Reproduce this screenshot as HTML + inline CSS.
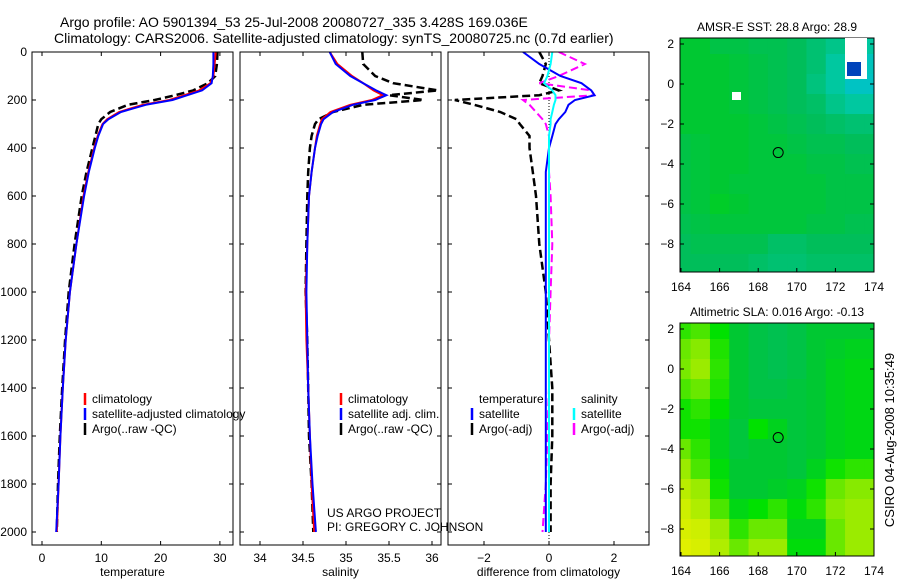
<!DOCTYPE html>
<html><head><meta charset="utf-8">
<style>
html,body{margin:0;padding:0;background:#fff;}
svg{display:block;font-family:"Liberation Sans",sans-serif;}
</style></head>
<body>
<svg id="fig" width="900" height="580" viewBox="0 0 900 580">
<text x="60" y="27" font-size="14">Argo profile: AO 5901394_53 25-Jul-2008 20080727_335 3.428S 169.036E</text>
<text x="54" y="43" font-size="14">Climatology: CARS2006. Satellite-adjusted climatology: synTS_20080725.nc (0.7d earlier)</text>
<text transform="translate(894,440) rotate(-90)" text-anchor="middle" font-size="13">CSIRO 04-Aug-2008 10:35:49</text>
<g id="plots"></g>
</svg>
<script>
// ---- profile data ----
const depths = [0,50,100,130,160,180,200,220,250,280,300,350,400,500,600,800,1000,1200,1400,1600,1800,2000];
const tempClim = [29.3,29.1,28.9,28.4,26.5,24,21.5,17,13,11,10.2,9.4,8.8,7.8,7,5.8,4.7,4,3.5,3.1,2.8,2.5];
const tempSat  = [28.9,28.9,28.8,28.6,27,24.5,22,17.5,13.3,11.2,10.3,9.5,8.9,7.9,7.1,5.8,4.7,4,3.5,3.1,2.8,2.4];
const tempArgo = [29.6,29.5,29.2,28.0,25.5,22.5,19,14.5,11.5,10,9.5,9,8.5,7.5,6.7,5.5,4.5,3.9,3.4,3.0,2.7,2.5];
const salClim = [34.81,34.9,35.07,35.2,35.32,35.43,35.3,35.05,34.82,34.72,34.7,34.66,34.64,34.6,34.57,34.55,34.53,34.54,34.56,34.58,34.6,34.63];
const salSat  = [34.81,34.88,35.05,35.2,35.35,35.47,35.34,35.08,34.85,34.74,34.71,34.67,34.64,34.6,34.57,34.55,34.54,34.55,34.56,34.58,34.61,34.65];
const salArgo = [35.19,35.2,35.34,35.55,36.07,35.5,35.9,35.2,34.85,34.68,34.64,34.6,34.58,34.56,34.55,34.54,34.53,34.55,34.56,34.57,34.6,34.62];
const dTempSat  = [-0.8,-0.3,0.35,1.0,1.3,1.4,0.8,0.6,0.5,0.3,0.2,0.1,0,-0.1,-0.1,-0.1,-0.1,-0.1,-0.1,-0.1,-0.1,-0.1];
const dTempArgo = [-0.3,-0.1,-0.2,-0.3,0.3,-0.3,-2.9,-2.3,-1.5,-1.0,-0.9,-0.6,-0.6,-0.5,-0.4,-0.3,-0.1,0,0.1,0.1,0.05,0.05];
const dSalSat   = [0.1,0.05,-0.05,-0.15,0.1,0.2,0.2,0.15,0.1,0.05,0.05,0,0,0,0,0,0,0,0,0,0,0];
const dSalArgo  = [0.3,1.1,0.3,-0.3,1.3,1.4,-0.8,-0.6,-0.4,-0.2,-0.1,0,0,0,0.05,0.1,0.05,0,0,-0.05,-0.1,-0.2];
const depthTicks = [0,200,400,600,800,1000,1200,1400,1600,1800,2000];
const tempTicks = [0,10,20,30];
const salTicks = [34,34.5,35,35.5,36];
const diffTicks = [-2,0,2];
// ---- map data (rows lat 2..-9, cols lon 164..173), colormap index 0..1 ----
const sstGrid = [
 [0.5,0.5,0.48,0.48,0.47,0.47,0.46,0.44,0.42,0.40],
 [0.5,0.5,0.5,0.49,0.48,0.47,0.46,0.44,0.40,0.36],
 [0.5,0.5,0.5,0.49,0.48,0.47,0.46,0.43,0.40,0.35],
 [0.5,0.5,0.5,0.49,0.48,0.47,0.46,0.45,0.42,0.40],
 [0.5,0.5,0.5,0.5,0.49,0.48,0.47,0.46,0.45,0.44],
 [0.48,0.49,0.5,0.5,0.49,0.49,0.48,0.47,0.47,0.46],
 [0.48,0.49,0.5,0.5,0.49,0.49,0.49,0.48,0.48,0.47],
 [0.48,0.49,0.5,0.49,0.49,0.49,0.49,0.49,0.48,0.48],
 [0.48,0.49,0.51,0.5,0.49,0.49,0.49,0.49,0.48,0.48],
 [0.47,0.48,0.49,0.49,0.49,0.49,0.49,0.48,0.48,0.47],
 [0.46,0.47,0.47,0.47,0.47,0.45,0.45,0.46,0.46,0.46],
 [0.46,0.46,0.46,0.46,0.45,0.44,0.44,0.45,0.45,0.45]];
const slaGrid = [
 [0.58,0.60,0.55,0.5,0.48,0.47,0.48,0.5,0.5,0.5],
 [0.62,0.64,0.57,0.5,0.48,0.47,0.48,0.5,0.51,0.52],
 [0.63,0.66,0.58,0.5,0.48,0.47,0.48,0.5,0.52,0.53],
 [0.60,0.62,0.57,0.5,0.48,0.48,0.49,0.5,0.52,0.53],
 [0.56,0.58,0.55,0.5,0.49,0.49,0.49,0.5,0.52,0.53],
 [0.56,0.56,0.52,0.49,0.55,0.52,0.49,0.5,0.52,0.53],
 [0.62,0.58,0.52,0.49,0.5,0.5,0.49,0.5,0.52,0.53],
 [0.66,0.60,0.54,0.5,0.5,0.5,0.49,0.52,0.56,0.58],
 [0.72,0.66,0.56,0.5,0.5,0.51,0.52,0.56,0.62,0.64],
 [0.76,0.70,0.60,0.53,0.55,0.58,0.54,0.58,0.64,0.66],
 [0.78,0.76,0.66,0.58,0.62,0.62,0.52,0.52,0.62,0.66],
 [0.80,0.78,0.70,0.62,0.66,0.66,0.54,0.54,0.62,0.66]];
const lonTicks = [164,166,168,170,172,174];
const latTicks = [2,0,-2,-4,-6,-8];

const NS = "http://www.w3.org/2000/svg";
const root = document.getElementById('plots');
function mk(tag, attrs, parent){ const e=document.createElementNS(NS,tag); for(const k in attrs) e.setAttribute(k,attrs[k]); (parent||root).appendChild(e); return e; }
function txt(x,y,s,size,anchor,parent){ const t=mk('text',{x:x,y:y,'font-size':size,'text-anchor':anchor||'start'},parent); t.textContent=s; return t; }

const yD = d => 52 + d*0.24;
const panels = [
 {x0:32,x1:233,xs:v=>42+v*5.93,ticks:tempTicks,label:'temperature',name:'temperature-panel'},
 {x0:240,x1:441,xs:v=>260+(v-34)*86,ticks:salTicks,label:'salinity',name:'salinity-panel'},
 {x0:448,x1:649,xs:v=>549+v*32.5,ticks:diffTicks,label:'difference from climatology',name:'difference-panel'}];
const Y0=52, Y1=545;
panels.forEach((p,i)=>{
  const g=mk('g',{});
  
  
  const cid='clip'+i;
  const cp=mk('clipPath',{id:cid},g); mk('rect',{x:p.x0,y:Y0,width:p.x1-p.x0,height:Y1-Y0},cp);
  p.g=g; p.clip='url(#'+cid+')';
  p.ticks.forEach(t=>{ const x=p.xs(t);
    mk('line',{x1:x,y1:Y1,x2:x,y2:Y1-4,stroke:'#000'},g);
    mk('line',{x1:x,y1:Y0,x2:x,y2:Y0+4,stroke:'#000'},g);
    txt(x,562,String(t).replace('-','\u2212'),12,'middle',g); });
  depthTicks.forEach(d=>{ const y=yD(d);
    mk('line',{x1:p.x0,y1:y,x2:p.x0+4,y2:y,stroke:'#000'},g);
    mk('line',{x1:p.x1,y1:y,x2:p.x1-4,y2:y,stroke:'#000'},g);
    if(i===0) txt(27,y+4,String(d),12,'end',g); });
  const xl=txt((p.x0+p.x1)/2,576,p.label,12,'middle',g);
  
  
});
function series(p,vals,color,dash,width,name){
  const pts=vals.map((v,k)=>p.xs(v).toFixed(1)+','+yD(depths[k]).toFixed(1)).join(' ');
  const l=mk('polyline',{points:pts,fill:'none',stroke:color,'stroke-width':width,'clip-path':p.clip,'stroke-dasharray':dash||'none'},p.g);
  
  
}
// zero line in diff
mk('line',{x1:549,y1:Y0,x2:549,y2:Y1,stroke:'#000','stroke-dasharray':'1,2','stroke-width':1},panels[2].g);
series(panels[0],tempArgo,'#000','8,4',2.5,'temp-argo-line');
series(panels[0],tempClim,'#f00','',2,'temp-clim-line');
series(panels[0],tempSat,'#00f','',2,'temp-sat-line');
series(panels[1],salArgo,'#000','8,4',2.5,'sal-argo-line');
series(panels[1],salClim,'#f00','',2,'sal-clim-line');
series(panels[1],salSat,'#00f','',2,'sal-sat-line');
series(panels[2],dTempArgo,'#000','8,4',2.5,'dtemp-argo-line');
series(panels[2],dSalArgo,'#f0f','8,4',2,'dsal-argo-line');
series(panels[2],dTempSat,'#00f','',2,'dtemp-sat-line');
series(panels[2],dSalSat,'#0ff','',2,'dsal-sat-line');
panels.forEach(p=>mk('rect',{x:p.x0,y:Y0,width:p.x1-p.x0,height:Y1-Y0,fill:'none',stroke:'#000'},p.g));

function legend(x,y,items,g){
  items.forEach((it,k)=>{ const yy=y+k*15;
    if(it[1]) mk('line',{x1:x,y1:yy-10,x2:x,y2:yy+2,stroke:it[1],'stroke-width':2.5},g);
    const t=txt(x+7,yy,it[0],12,'start',g);
    
     });
}
legend(85,403,[['climatology','#f00'],['satellite-adjusted climatology','#00f'],['Argo(..raw -QC)','#000']],root);
legend(341,403,[['climatology','#f00'],['satellite adj. clim.','#00f'],['Argo(..raw -QC)','#000']],panels[1].g);
legend(472,403,[['temperature',null],['satellite','#00f'],['Argo(-adj)','#000']],panels[2].g);
legend(574,403,[['salinity',null],['satellite','#0ff'],['Argo(-adj)','#f0f']],panels[2].g);
txt(327,517,'US ARGO PROJECT',12,'start');
txt(327,531,'PI: GREGORY C. JOHNSON',12,'start');

// ---- maps ----
function cmap(v){
  const stops=[[0.3,[0,190,230]],[0.4,[0,200,160]],[0.46,[0,190,90]],[0.5,[0,200,50]],[0.55,[0,225,0]],[0.65,[150,235,0]],[0.8,[225,240,0]]];
  if(v<=stops[0][0]) return 'rgb('+stops[0][1]+')';
  for(let i=1;i<stops.length;i++){ if(v<=stops[i][0]){ const a=stops[i-1],b=stops[i],f=(v-a[0])/(b[0]-a[0]);
    return 'rgb('+a[1].map((c,j)=>Math.round(c+(b[1][j]-c)*f)).join(',')+')'; } }
  return 'rgb('+stops[stops.length-1][1]+')';
}
function drawMap(name,title,grid,top,bot,lat0y){
  const g=mk('g',{});
  
  
  const X0=680,X1=874;
  const xs=lon=>681+(lon-164)*19.3, ys=lat=>lat0y-lat*20;
  const cp=mk('clipPath',{id:name+'c'},g); mk('rect',{x:X0,y:top,width:X1-X0,height:bot-top},cp);
  const cg=mk('g',{'clip-path':'url(#'+name+'c)'},g);
  grid.forEach((row,r)=>row.forEach((v,c)=>{
    const lat=2.5-r, lon=163.5+c;
    const cell=mk('rect',{x:xs(lon),y:ys(lat),width:19.3*1+0.5,height:20.5,fill:cmap(v)},cg);
    
    
    // extend last column
    if(c===row.length-1) mk('rect',{x:xs(lon+1),y:ys(lat),width:20,height:20.5,fill:cmap(v)},cg);
  }));
  mk('rect',{x:X0,y:top,width:X1-X0,height:bot-top,fill:'none',stroke:'#000'},g);
  lonTicks.forEach(l=>{ const x=xs(l); mk('line',{x1:x,y1:bot,x2:x,y2:bot-4,stroke:'#000'},g); txt(x,bot+19,String(l),12,'middle',g); });
  latTicks.forEach(l=>{ const y=ys(l); mk('line',{x1:X0,y1:y,x2:X0+4,y2:y,stroke:'#000'},g); mk('line',{x1:X1,y1:y,x2:X1-4,y2:y,stroke:'#000'},g); txt(674,y+4,String(l).replace('-','\u2212'),12,'end',g); });
  const c=mk('circle',{cx:xs(169.036),cy:ys(-3.428),r:5,fill:'none',stroke:'#000'},g);
  
  
  const t=txt(777,top-7,title,12,'middle',g);
  
  
  return {g:g,xs:xs,ys:ys};
}
const m1=drawMap('sst-map','AMSR-E SST: 28.8 Argo: 28.9',sstGrid,38,272,84);
mk('rect',{x:845,y:38,width:22,height:41,fill:'#fff'},m1.g);
mk('rect',{x:847,y:62,width:14,height:14,fill:'#0044bb'},m1.g);
mk('rect',{x:732,y:92,width:9,height:8,fill:'#fff'},m1.g);
const m2=drawMap('sla-map','Altimetric SLA: 0.016 Argo: -0.13',slaGrid,323,556,369);
</script>
</body></html>
